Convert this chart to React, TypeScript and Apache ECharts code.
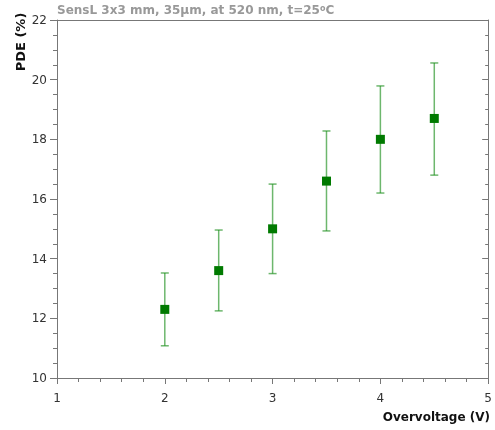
import React, { useEffect, useRef } from "react";
import * as echarts from "echarts";

const voltages = [2, 2.5, 3, 3.5, 4, 4.5];
const pde = [12.3, 13.6, 15.0, 16.6, 18.0, 18.7];
const errLow = [11.08, 12.25, 13.5, 14.93, 16.2, 16.8];
const errHigh = [13.52, 14.96, 16.5, 18.28, 19.79, 20.56];
const titleMain = "SensL 3x3 mm, 35μm, at 520 nm, t=25";
const xName = "Overvoltage (V)";
const yName = "PDE (%)";

const FONT = "DejaVu Sans";

export default function App() {
  const ref = useRef<HTMLDivElement>(null);
  useEffect(() => {
    if (!ref.current) return;
    const chart = echarts.init(ref.current, null, { renderer: "svg" });
    const lineStyle = { color: "#777", width: 1 };
    const option: any = {
      animation: false,
      textStyle: { fontFamily: FONT },
      title: {
        text: `${titleMain}{sup|o}C`,
        left: 52,
        top: -1,
        textStyle: {
          fontFamily: FONT,
          fontSize: 12,
          fontWeight: "bold",
          color: "#999",
          rich: {
            sup: { fontSize: 8, fontWeight: "bold", color: "#999", verticalAlign: "top", lineHeight: 8, padding: [0, 0, 4, 0] },
          },
        },
      },
      grid: { left: 57, right: 5, top: 20, bottom: 52 },
      xAxis: [
        {
          type: "value",
          min: 1,
          max: 5,
          interval: 1,
          position: "bottom",
          axisLine: { show: true, lineStyle },
          axisTick: { show: true, length: 6, lineStyle },
          minorTick: { show: false },
          splitLine: { show: false },
          axisLabel: { color: "#333", fontSize: 12, fontFamily: FONT, margin: 14 },
        },
        {
          type: "value",
          min: 1,
          max: 5,
          interval: 1,
          position: "bottom",
          axisLine: { show: false },
          axisTick: { show: false },
          minorTick: { show: true, splitNumber: 5, length: 4, lineStyle },
          splitLine: { show: false },
          axisLabel: { show: false },
        },
        {
          type: "value",
          min: 1,
          max: 5,
          interval: 1,
          position: "top",
          axisLine: { show: true, lineStyle },
          axisTick: { show: false },
          splitLine: { show: false },
          axisLabel: { show: false },
        },
      ],
      yAxis: [
        {
          type: "value",
          min: 10,
          max: 22,
          interval: 2,
          position: "left",
          axisLine: { show: true, lineStyle },
          axisTick: { show: true, length: 7, lineStyle },
          minorTick: { show: true, splitNumber: 4, length: 4, lineStyle },
          splitLine: { show: false },
          axisLabel: { color: "#333", fontSize: 12, fontFamily: FONT, margin: 10 },
        },
        {
          type: "value",
          min: 10,
          max: 22,
          interval: 2,
          position: "right",
          axisLine: { show: true, lineStyle },
          axisTick: { show: true, inside: true, length: 6, lineStyle },
          minorTick: { show: true, splitNumber: 4, length: 3, lineStyle },
          splitLine: { show: false },
          axisLabel: { show: false },
        },
      ],
      graphic: [
        {
          type: "text",
          x: 20,
          y: 42,
          rotation: Math.PI / 2,
          style: {
            text: yName,
            fontFamily: FONT,
            fontSize: 13,
            fontWeight: "bold",
            fill: "#111",
            align: "center",
            verticalAlign: "middle",
          },
        },
        {
          type: "text",
          x: 490,
          y: 417,
          style: {
            text: xName,
            fontFamily: FONT,
            fontSize: 12,
            fontWeight: "bold",
            fill: "#111",
            align: "right",
            verticalAlign: "middle",
          },
        },
      ],
      series: [
        {
          type: "custom",
          xAxisIndex: 0,
          yAxisIndex: 0,
          data: voltages.map((v, i) => [v, errLow[i], errHigh[i]]),
          renderItem: (params: any, api: any) => {
            const x = api.value(0);
            const lo = api.coord([x, api.value(1)]);
            const hi = api.coord([x, api.value(2)]);
            const hw = 4;
            const style = { stroke: "rgba(30,145,30,0.65)", lineWidth: 1.5 };
            return {
              type: "group",
              children: [
                { type: "line", shape: { x1: lo[0], y1: lo[1], x2: hi[0], y2: hi[1] }, style },
                { type: "line", shape: { x1: lo[0] - hw, y1: lo[1], x2: lo[0] + hw, y2: lo[1] }, style },
                { type: "line", shape: { x1: hi[0] - hw, y1: hi[1], x2: hi[0] + hw, y2: hi[1] }, style },
              ],
            };
          },
          z: 2,
        },
        {
          type: "scatter",
          xAxisIndex: 0,
          yAxisIndex: 0,
          data: voltages.map((v, i) => [v, pde[i]]),
          symbol: "rect",
          symbolSize: 9,
          itemStyle: { color: "#007a00", opacity: 1 },
          z: 3,
        },
      ],
    };
    chart.setOption(option);
    return () => chart.dispose();
  }, []);
  return <div ref={ref} style={{ position: "fixed", left: 0, top: 0, width: 495, height: 430 }} />;
}
